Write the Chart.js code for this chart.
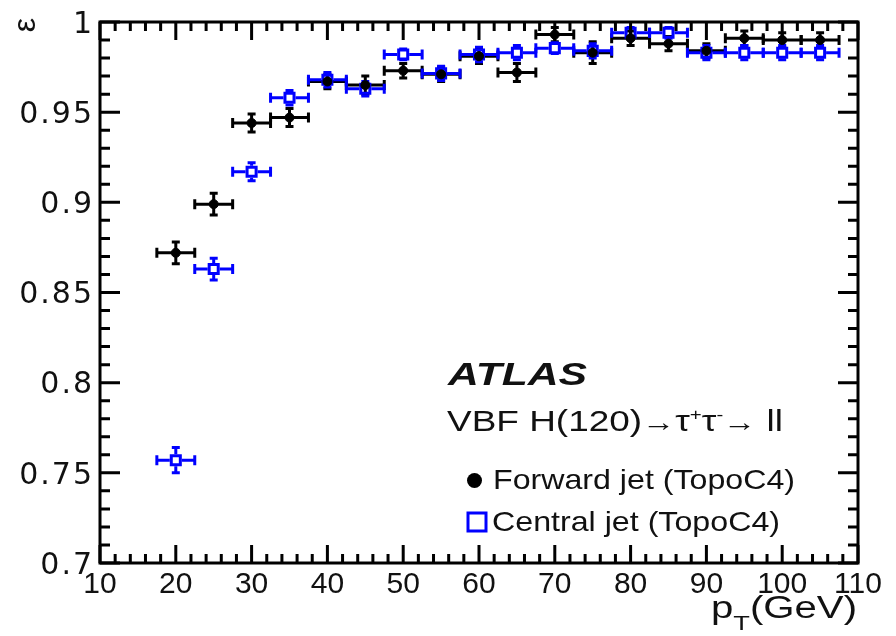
<!DOCTYPE html>
<html>
<head>
<meta charset="utf-8">
<script src="https://cdn.jsdelivr.net/npm/chart.js@4.4.1/dist/chart.umd.min.js"></script>
<style>
  html, body { margin: 0; padding: 0; background: #fff; }
  .chart-container { position: relative; width: 896px; height: 636px; }
</style>
</head>
<body>
<div class="chart-container"><canvas id="effChart"></canvas></div>
<script>
// --- data ---
const ptBins = [20, 25, 30, 35, 40, 45, 50, 55, 60, 65, 70, 75, 80, 85, 90, 95, 100, 105];
const ptHalfWidth = [2.5, 2.5, 2.5, 2.5, 2.5, 2.5, 2.5, 2.5, 2.5, 2.5, 2.5, 2.5, 2.5, 2.5, 2.5, 2.5, 2.5, 2.5];
const forwardEff = [0.872, 0.899, 0.944, 0.947, 0.967, 0.965, 0.973, 0.971, 0.981, 0.972, 0.993, 0.983, 0.991, 0.988, 0.984, 0.991, 0.990, 0.990];
const forwardErr = [0.006, 0.006, 0.005, 0.005, 0.004, 0.005, 0.004, 0.004, 0.004, 0.005, 0.004, 0.006, 0.004, 0.004, 0.004, 0.004, 0.004, 0.004];
const centralEff = [0.757, 0.863, 0.917, 0.958, 0.968, 0.963, 0.982, 0.9715, 0.982, 0.983, 0.9855, 0.984, 0.994, 0.994, 0.983, 0.983, 0.983, 0.983];
const centralErr = [0.007, 0.006, 0.005, 0.004, 0.004, 0.004, 0.003, 0.004, 0.004, 0.004, 0.003, 0.004, 0.003, 0.003, 0.004, 0.004, 0.004, 0.004];
const xTicks = [10, 20, 30, 40, 50, 60, 70, 80, 90, 100, 110];
const yTicks = [0.7, 0.75, 0.8, 0.85, 0.9, 0.95, 1];
const seriesLabels = ["Forward jet (TopoC4)", "Central jet (TopoC4)"];

const FONT = '"Liberation Sans", Arial, Helvetica, sans-serif';
const BLUE = '#0000ff';
const BLACK = '#000000';

const toPoints = (eff, err) => ptBins.map((x, i) => ({ x: x, y: eff[i], xErr: ptHalfWidth[i], yErr: err[i] }));

// error bars (drawn under the markers, ROOT style with end caps)
const errorBars = {
  id: 'errorBars',
  beforeDatasetsDraw(chart) {
    const ctx = chart.ctx, xs = chart.scales.x, ys = chart.scales.y;
    chart.data.datasets.forEach(ds => {
      const gap = ds.barGap || 0;
      ctx.save();
      ctx.strokeStyle = ds.borderColor;
      ctx.lineWidth = 3;
      ds.data.forEach(p => {
        const px = xs.getPixelForValue(p.x), py = ys.getPixelForValue(p.y);
        const xl = xs.getPixelForValue(p.x - p.xErr), xr = xs.getPixelForValue(p.x + p.xErr);
        const yt = ys.getPixelForValue(p.y + p.yErr), yb = ys.getPixelForValue(p.y - p.yErr);
        ctx.beginPath();
        ctx.moveTo(xl, py); ctx.lineTo(px - gap, py);
        ctx.moveTo(px + gap, py); ctx.lineTo(xr, py);
        if (yt < py - gap) { ctx.moveTo(px, yt); ctx.lineTo(px, py - gap); }
        if (yb > py + gap) { ctx.moveTo(px, py + gap); ctx.lineTo(px, yb); }
        // caps
        ctx.moveTo(xl, py - 5); ctx.lineTo(xl, py + 5);
        ctx.moveTo(xr, py - 5); ctx.lineTo(xr, py + 5);
        ctx.moveTo(px - 4, yt); ctx.lineTo(px + 4, yt);
        ctx.moveTo(px - 4, yb); ctx.lineTo(px + 4, yb);
        ctx.stroke();
      });
      ctx.restore();
    });
  }
};

// frame + inward ticks on all four sides, then text
const rootFrame = {
  id: 'rootFrame',
  afterDatasetsDraw(chart) {
    const ctx = chart.ctx, xs = chart.scales.x, ys = chart.scales.y;
    const { left, right, top, bottom } = chart.chartArea;
    ctx.save();
    ctx.strokeStyle = '#000';
    ctx.lineWidth = 3;
    ctx.beginPath();
    // x ticks (every 2 GeV minor, every 10 major)
    for (let v = xTicks[0]; v <= xTicks[xTicks.length - 1] + 1e-9; v += 2) {
      const px = xs.getPixelForValue(v);
      const major = xTicks.includes(Math.round(v));
      const len = major ? 18 : 9;
      ctx.moveTo(px, bottom); ctx.lineTo(px, bottom - len);
      ctx.moveTo(px, top); ctx.lineTo(px, top + len);
    }
    // y ticks (every 0.01 minor, every 0.05 major)
    for (let k = 0; k <= 30; k++) {
      const v = yTicks[0] + k * 0.01;
      const py = ys.getPixelForValue(v);
      const len = (k % 5 === 0) ? 20 : 10;
      ctx.moveTo(left, py); ctx.lineTo(left + len, py);
      ctx.moveTo(right, py); ctx.lineTo(right - len, py);
    }
    ctx.stroke();
    ctx.strokeRect(left, top, right - left, bottom - top);
    ctx.restore();
    // y tick labels are drawn after this hook (ticks.z = 1) with wide spacing
    ctx.letterSpacing = '2px';
  },
  afterDraw(chart) {
    const ctx = chart.ctx;
    ctx.letterSpacing = '0px';
    ctx.save();
    ctx.fillStyle = '#111';
    ctx.textAlign = 'left';
    ctx.textBaseline = 'alphabetic';

    // y-axis title (rotated epsilon)
    ctx.save();
    ctx.translate(35, 25);
    ctx.rotate(-Math.PI / 2);
    ctx.textAlign = 'center';
    ctx.font = '32px ' + FONT;
    ctx.fillText('ε', 0, 0);
    ctx.restore();

    // x-axis title p_T(GeV)
    drawRuns(ctx, 711, 618, [
      { text: 'p', font: '31px ' + FONT },
      { text: 'T', font: '21px ' + FONT, dy: 12 },
      { text: '(GeV)', font: '31px ' + FONT }
    ], 146);

    // ATLAS label
    drawRuns(ctx, 448, 385, [{ text: 'ATLAS', font: 'italic bold 32px ' + FONT }], 139);

    // process label
    drawRuns(ctx, 447, 431, [
      { text: 'VBF H(120)', font: '29px ' + FONT },
      { text: '\u2192', font: '26px ' + FONT },
      { text: '\u03c4', font: '29px ' + FONT },
      { text: '+', font: '16px ' + FONT, dy: -11 },
      { text: '\u03c4', font: '29px ' + FONT },
      { text: '-', font: '16px ' + FONT, dy: -11 },
      { text: '\u2192', font: '26px ' + FONT },
      { text: ' ll', font: '29px ' + FONT }
    ], 336);

    // legend
    ctx.fillStyle = BLACK;
    ctx.beginPath();
    ctx.arc(474.5, 480.5, 7.5, 0, Math.PI * 2);
    ctx.fill();
    ctx.strokeStyle = BLUE;
    ctx.lineWidth = 3;
    ctx.strokeRect(468, 513, 18, 18);
    ctx.fillStyle = '#111';
    drawRuns(ctx, 493, 489, [{ text: seriesLabels[0], font: '28px ' + FONT }], 302);
    drawRuns(ctx, 492, 531, [{ text: seriesLabels[1], font: '28px ' + FONT }], 288);
    ctx.restore();
  }
};

function drawRuns(ctx, x, baseline, runs, targetW) {
  let w = 0;
  runs.forEach(r => { ctx.font = r.font; r.w = ctx.measureText(r.text).width; w += r.w; });
  const sx = targetW ? targetW / w : 1;
  ctx.save();
  ctx.translate(x, baseline);
  ctx.scale(sx, 1);
  let cx = 0;
  runs.forEach(r => { ctx.font = r.font; ctx.fillText(r.text, cx, r.dy || 0); cx += r.w; });
  ctx.restore();
}

const ctx = document.getElementById('effChart').getContext('2d');
new Chart(ctx, {
  type: 'scatter',
  data: {
    datasets: [
      {
        label: seriesLabels[0],
        data: toPoints(forwardEff, forwardErr),
        pointStyle: 'circle',
        pointRadius: 4.5,
        pointBorderWidth: 1,
        backgroundColor: BLACK,
        borderColor: BLACK,
        barGap: 0
      },
      {
        label: seriesLabels[1],
        data: toPoints(centralEff, centralErr),
        pointStyle: 'rect',
        pointRadius: 6.4,
        pointBorderWidth: 3,
        backgroundColor: 'rgba(0,0,0,0)',
        borderColor: BLUE,
        barGap: 6
      }
    ]
  },
  options: {
    responsive: true,
    maintainAspectRatio: false,
    animation: false,
    layout: { padding: { left: 0, top: 22, right: 38, bottom: 0 } },
    plugins: {
      legend: { display: false },
      tooltip: { enabled: false }
    },
    scales: {
      x: {
        type: 'linear',
        min: 10,
        max: 110,
        grid: { display: false, drawTicks: false },
        border: { display: false },
        afterBuildTicks: s => { s.ticks = xTicks.map(v => ({ value: v })); },
        afterFit: s => { s.height = 73; s.paddingLeft = 0; s.paddingRight = 0; },
        ticks: {
          autoSkip: false,
          maxRotation: 0,
          padding: 4,
          color: '#111',
          font: { family: FONT, size: 30 }
        }
      },
      y: {
        type: 'linear',
        min: 0.7,
        max: 1,
        grid: { display: false, drawTicks: false },
        border: { display: false },
        afterBuildTicks: s => { s.ticks = yTicks.map(v => ({ value: v })); },
        afterFit: s => { s.width = 100; s.paddingTop = 0; s.paddingBottom = 0; },
        ticks: {
          z: 1,
          padding: 6,
          labelOffset: 3,
          color: '#111',
          font: { family: '"DejaVu Sans", Verdana, sans-serif', size: 30 },
          callback: v => String(+v.toFixed(2))
        }
      }
    }
  },
  plugins: [errorBars, rootFrame]
});
</script>
</body>
</html>
